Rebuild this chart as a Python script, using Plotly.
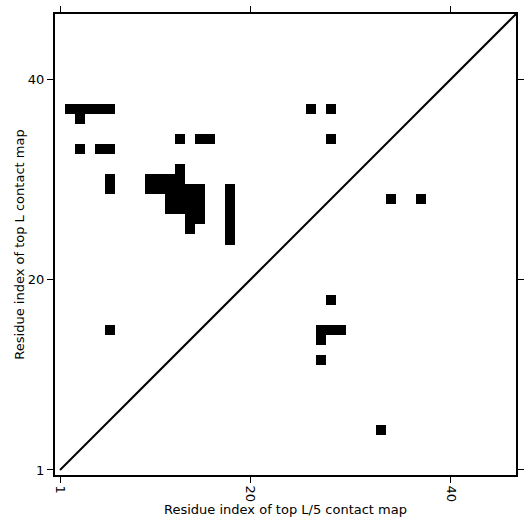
import plotly.graph_objects as go

N = 46
# contact cells (residue index x, residue index y), 1-based
contact_x = [2, 3, 4, 5, 6, 3, 3, 5, 6, 13, 15, 16, 13,
             6, 10, 11, 12, 13,
             6, 10, 11, 12, 13, 14, 15,
             12, 13, 14, 15,
             12, 13, 14, 15,
             14, 15, 14,
             18, 18, 18, 18, 18, 18,
             26, 28, 28, 34, 37,
             28, 27, 28, 29, 27, 27, 33, 6]
contact_y = [37, 37, 37, 37, 37, 36, 33, 33, 33, 34, 34, 34, 31,
             30, 30, 30, 30, 30,
             29, 29, 29, 29, 29, 29, 29,
             28, 28, 28, 28,
             27, 27, 27, 27,
             26, 26, 25,
             24, 25, 26, 27, 28, 29,
             37, 37, 34, 28, 28,
             18, 15, 15, 15, 14, 12, 5, 15]

tick_vals = [1, 20, 40]
tick_text = ["1", "20", "40"]

residues = list(range(1, N + 1))
z = [[0] * N for _ in range(N)]
for cx, cy in zip(contact_x, contact_y):
    z[cy - 1][cx - 1] = 1

fig = go.Figure()
fig.add_trace(go.Heatmap(
    x=residues, y=residues, z=z,
    colorscale=[[0, "white"], [1, "black"]],
    zmin=0, zmax=1, showscale=False, hoverinfo="skip"))
fig.add_trace(go.Scatter(
    x=[1, N + 0.5], y=[1, N + 0.5], mode="lines",
    line=dict(color="black", width=2), showlegend=False, hoverinfo="skip"))

font = dict(family="DejaVu Sans", size=13, color="black")
axis_common = dict(
    range=[0.5, N + 0.5], tickvals=tick_vals, ticktext=tick_text,
    ticks="outside", ticklen=6, tickwidth=1, tickcolor="black",
    showline=True, linewidth=2, linecolor="black", mirror="allticks",
    showgrid=False, zeroline=False, tickfont=font, automargin=False)

fig.update_layout(
    width=531, height=531,
    margin=dict(l=55, r=15, t=14, b=56),
    plot_bgcolor="white", paper_bgcolor="white",
    showlegend=False,
    xaxis=dict(**axis_common, tickangle=90,
               title=dict(text="Residue index of top L/5 contact map", font=font, standoff=4)),
    yaxis=dict(**axis_common, tickangle=0,
               title=dict(text="Residue index of top L contact map", font=font, standoff=0)),
)
fig.write_html("out.html", config={"displayModeBar": False},
               post_script="document.body.style.margin='0';document.body.style.overflow='hidden';")
